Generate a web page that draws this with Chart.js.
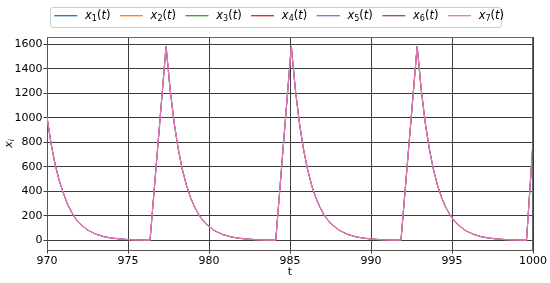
<!DOCTYPE html>
<html><head><meta charset="utf-8">
<script src="https://cdn.jsdelivr.net/npm/chart.js@4"></script>
<style>html,body{margin:0;padding:0;background:#fff}#wrap{width:550px;height:283px;position:relative}</style>
</head><body><div id="wrap"><canvas id="c" width="550" height="283"></canvas></div>
<script>
// time samples
const T = [
  970, 970.25, 970.5, 970.75, 971, 971.25, 971.5, 971.75, 972, 972.5, 973, 973.5, 974, 974.5, 975, 975.5, 976, 976.36,
  977.35, 977.6, 977.85, 978.1, 978.35, 978.6, 978.85, 979.1, 979.35, 979.6, 979.85, 980.35, 980.85, 981.35, 981.85, 982.35, 982.85, 983.35, 983.85, 984.12,
  985.08, 985.33, 985.58, 985.83, 986.08, 986.33, 986.58, 986.83, 987.08, 987.33, 987.58, 988.08, 988.58, 989.08, 989.58, 990.08, 990.58, 991.08, 991.58, 991.85,
  992.85, 993.1, 993.35, 993.6, 993.85, 994.1, 994.35, 994.6, 994.85, 995.1, 995.35, 995.85, 996.35, 996.85, 997.35, 997.85, 998.35, 998.85, 999.35, 999.6,
  1000
];
// x_i(t) values (all seven series coincide; x7 drawn on top)
const XI = [
  1005, 790, 620, 490, 390, 300, 235, 180, 140, 85, 52, 31, 19, 12, 7, 4, 2.5, 1.5,
  1584, 1230, 958, 746, 581, 453, 353, 275, 214, 167, 130, 79, 48, 29, 18, 11, 6.5, 4, 2.4, 1.8,
  1582, 1230, 958, 746, 581, 453, 353, 275, 214, 167, 130, 79, 48, 29, 18, 11, 6.5, 4, 2.4, 1.8,
  1584, 1230, 958, 746, 581, 453, 353, 275, 214, 167, 130, 79, 48, 29, 18, 11, 6.5, 4, 2.4, 1.8,
  800
];
const SUBS = ['1','2','3','4','5','6','7'];
const COLORS = ['#1f77b4','#ff7f0e','#2ca02c','#d62728','#9467bd','#8c564b','#e377c2'];
const X_TICKS = [970, 975, 980, 985, 990, 995, 1000];
const Y_TICKS = [0, 200, 400, 600, 800, 1000, 1200, 1400, 1600];
const X_LABEL = 't';

const FONT = '"DejaVu Sans", sans-serif';
const points = T.map((t, i) => ({x: t, y: XI[i]}));
const LAST = SUBS.length - 1;

const datasets = SUBS.map((s, k) => ({
  label: 'x' + s + '(t)',
  data: points,
  borderColor: COLORS[k],
  backgroundColor: COLORS[k],
  borderWidth: k === LAST ? 1.2 : 0.6,
  pointRadius: 0,
  tension: 0,
  fill: false,
  order: LAST - k
}));

function drawMath(ctx, parts, x, y, base) {
  let cx = x;
  for (const p of parts) {
    ctx.font = (p[1] ? p[1] + ' ' : '') + (base * p[2]) + 'px ' + FONT;
    ctx.fillText(p[0], cx, y + p[3]);
    cx += ctx.measureText(p[0]).width;
  }
  return cx - x;
}
function mathWidth(ctx, parts, base) {
  let w = 0;
  for (const p of parts) {
    ctx.font = (p[1] ? p[1] + ' ' : '') + (base * p[2]) + 'px ' + FONT;
    w += ctx.measureText(p[0]).width;
  }
  return w;
}

const deco = {
  id: 'deco',
  afterDraw(chart) {
    const ctx = chart.ctx;
    const a = chart.chartArea;
    ctx.save();
    // top and right spines
    ctx.strokeStyle = '#666';
    ctx.lineWidth = 1;
    ctx.beginPath();
    ctx.moveTo(a.left, a.top + 0.5); ctx.lineTo(a.right, a.top + 0.5);
    ctx.moveTo(a.right - 0.5, a.top); ctx.lineTo(a.right - 0.5, a.bottom);
    ctx.stroke();

    // legend frame
    ctx.fillStyle = 'rgba(255,255,255,0.9)';
    ctx.strokeStyle = '#cccccc';
    ctx.beginPath();
    ctx.roundRect(50.5, 7.5, 451, 20, 2.5);
    ctx.fill(); ctx.stroke();

    // legend entries
    ctx.textBaseline = 'middle';
    ctx.textAlign = 'left';
    let x = 54.3;
    const yMid = 16.3;
    const base = 11.5;
    chart.data.datasets.forEach((ds, k) => {
      ctx.strokeStyle = ds.borderColor;
      ctx.lineWidth = 1.3;
      ctx.beginPath();
      ctx.moveTo(x, 15.7); ctx.lineTo(x + 23, 15.7);
      ctx.stroke();
      ctx.fillStyle = '#000';
      const parts = [['x', 'italic', 1, 0], [SUBS[k], '', 0.7, 2.8], ['(', '', 1, 0], ['t', 'italic', 1, 0], [')', '', 1, 0]];
      const w = drawMath(ctx, parts, x + 30.7, yMid, base);
      x += 30.7 + w + 9.5;
    });

    // y label x_i
    ctx.save();
    ctx.translate(9, (a.top + a.bottom) / 2);
    ctx.rotate(-Math.PI / 2);
    const yl = [['x', 'italic', 1, 0], ['i', 'italic', 0.7, 2.8]];
    const w = mathWidth(ctx, yl, 11);
    ctx.fillStyle = '#000';
    drawMath(ctx, yl, -w / 2, 0, 11);
    ctx.restore();

    // x label
    ctx.font = '11px ' + FONT;
    ctx.textAlign = 'center';
    ctx.fillStyle = '#000';
    ctx.fillText(X_LABEL, (a.left + a.right) / 2, 272);
    ctx.restore();
  }
};

new Chart(document.getElementById('c'), {
  type: 'line',
  data: { datasets },
  plugins: [deco],
  options: {
    responsive: false,
    animation: false,
    devicePixelRatio: 1,
    layout: { padding: { top: 37, right: 17, left: 0, bottom: 0 } },
    plugins: { legend: { display: false }, tooltip: { enabled: false } },
    scales: {
      x: {
        type: 'linear', min: 970, max: 1000,
        afterBuildTicks: s => { s.ticks = X_TICKS.map(v => ({value: v})); },
        afterFit: s => { s.height = 33; },
        grid: { color: '#3c3c3c', lineWidth: 1, tickLength: 3.5, drawTicks: true },
        border: { display: true, color: '#555', width: 1 },
        ticks: { font: { family: FONT, size: 11 }, color: '#000', padding: 1, maxRotation: 0, autoSkip: false, callback: v => String(v) }
      },
      y: {
        type: 'linear', min: -78, max: 1658,
        afterBuildTicks: s => { s.ticks = Y_TICKS.map(v => ({value: v})); },
        afterFit: s => { s.width = 47; },
        grid: { color: '#3c3c3c', lineWidth: 1, tickLength: 3.5, drawTicks: true },
        border: { display: true, color: '#555', width: 1 },
        ticks: { font: { family: FONT, size: 11 }, color: '#000', padding: 1, autoSkip: false, callback: v => String(v) }
      }
    }
  }
});
</script></body></html>
